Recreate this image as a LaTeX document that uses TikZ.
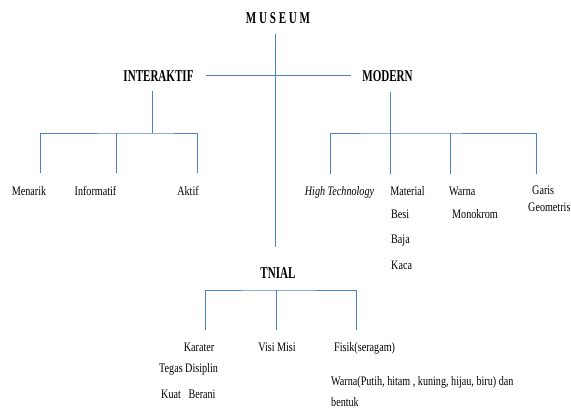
\documentclass[tikz,border=0pt]{standalone}
\usepackage{fontspec}
\setmainfont{Liberation Serif}[FakeStretch=0.78]
\newfontfamily\tfont{Liberation Serif}[FakeStretch=0.67]
\definecolor{lineblue}{RGB}{79,129,189}
\begin{document}
\begin{tikzpicture}[x=1pt,y=-1pt,
  conn/.style={draw=lineblue,line width=1pt},
  title/.style={inner sep=0pt,font=\tfont\bfseries\fontsize{16.5}{18}\selectfont},
  lbl/.style={inner sep=0pt,font=\fontsize{13}{15}\selectfont}]
\useasboundingbox (0,0) rectangle (571,408);
% titles
\node[title,anchor=base] (museum) at (278,23) {M U S E U M};
\node[title,anchor=base] (interaktif) at (158.5,81) {INTERAKTIF};
\node[title,anchor=base] (modern) at (387.5,81) {MODERN};
\node[title,anchor=base] (tnial) at (278,278) {TNIAL};
% level labels
\node[lbl,anchor=base] (menarik) at (29,195) {Menarik};
\node[lbl,anchor=base] (informatif) at (95.5,195) {Informatif};
\node[lbl,anchor=base] (aktif) at (188,195) {Aktif};
\node[lbl,anchor=base] (hightech) at (339.5,195) {\itshape High Technology};
\node[lbl,anchor=base] (material) at (407.5,195) {Material};
\node[lbl,anchor=base west] (besi) at (391,218) {Besi};
\node[lbl,anchor=base west] (baja) at (391,243) {Baja};
\node[lbl,anchor=base west] (kaca) at (391,269) {Kaca};
\node[lbl,anchor=base west] (warna) at (449,195) {Warna};
\node[lbl,anchor=base west] (monokrom) at (452,218) {Monokrom};
\node[lbl,anchor=base west] (garis) at (532,194) {Garis};
\node[lbl,anchor=base west] (geometris) at (528,211) {Geometris};
\node[lbl,anchor=base] (karater) at (199,351) {Karater};
\node[lbl,anchor=base west] (tegas) at (159,372) {Tegas Disiplin};
\node[lbl,anchor=base west] (kuat) at (161,398) {Kuat\ \ \ Berani};
\node[lbl,anchor=base] (visimisi) at (277,351) {Visi Misi};
\node[lbl,anchor=base west] (fisik) at (334,351) {Fisik(seragam)};
\node[lbl,anchor=base west] (warnafisik) at (331,385) {Warna(Putih, hitam , kuning, hijau, biru) dan};
\node[lbl,anchor=base west] (bentuk) at (331,406) {bentuk};
% junction coordinates
\coordinate (mtop) at (275,34);
\coordinate (mbot) at (275,247);
\coordinate (hl) at (206,75.5);
\coordinate (hr) at (351,75.5);
\coordinate (itop) at (152,91);
\coordinate (ibar) at (152,133);
\coordinate (mtop2) at (390,92);
\coordinate (mbar) at (390,133);
% connectors
\draw[conn] (mtop) -- (mbot);
\draw[conn] (hl) -- (hr);
\draw[conn] (itop) -- (ibar);
\draw[conn] (40,173) |- (ibar) -| (197,173);
\draw[conn] (116,133) -- (116,173);
\draw[conn] (mtop2) -- (mbar);
\draw[conn] (330,174) |- (mbar) -| (536,174);
\draw[conn] (mbar) -- (390,174);
\draw[conn] (450,133) -- (450,174);
\coordinate (tbar) at (276,290);
\draw[conn] (205,330) |- (tbar) -| (356,330);
\draw[conn] (tbar) -- (276,330);
\end{tikzpicture}
\end{document}
